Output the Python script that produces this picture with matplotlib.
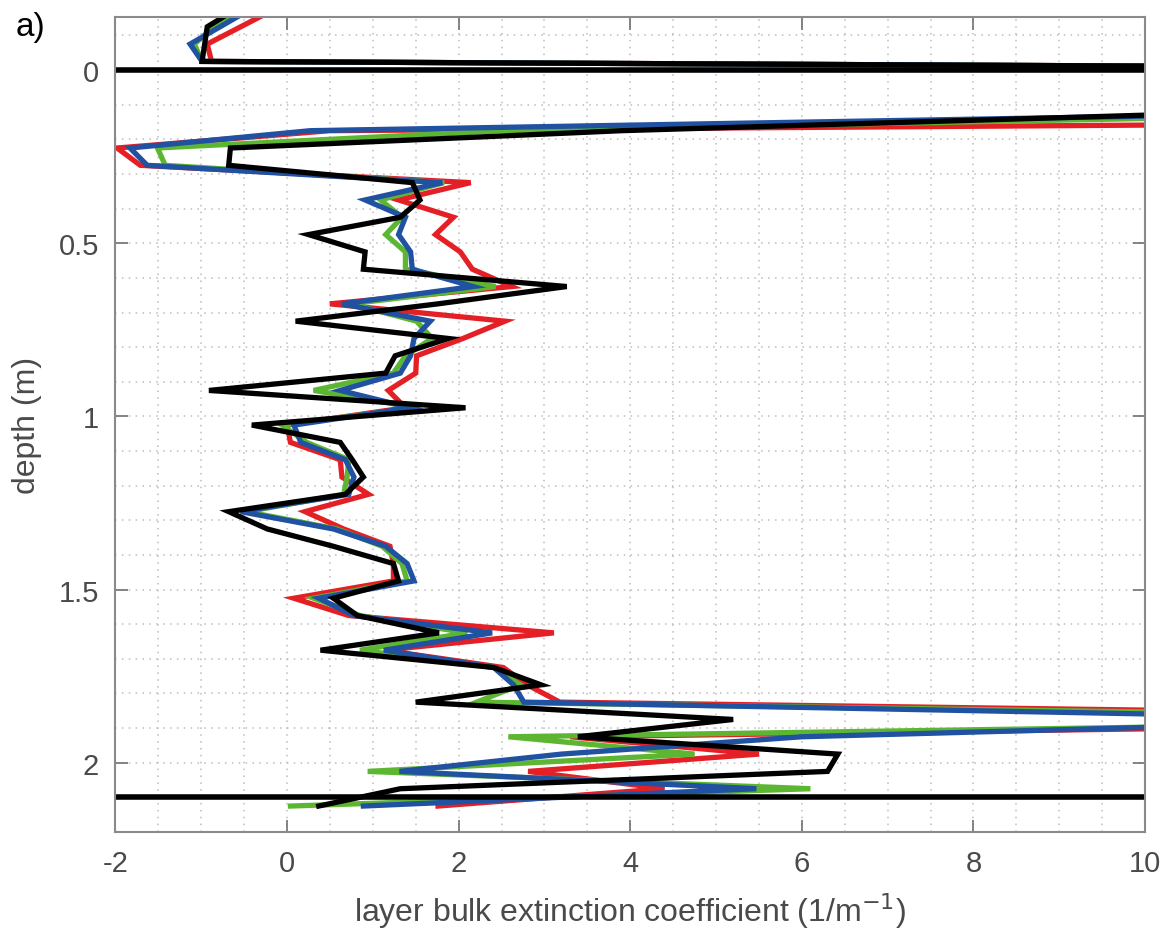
import matplotlib
matplotlib.use('Agg')
import matplotlib.pyplot as plt
import numpy as np
from matplotlib.ticker import MultipleLocator, FuncFormatter

plt.rcParams['font.family'] = ['Liberation Sans', 'DejaVu Sans']

# layer mid-depths (m)
depth = [-0.175, -0.125, -0.075, -0.025, 0.025, 0.075, 0.125, 0.175, 0.225, 0.275,
         0.325, 0.375, 0.425, 0.475, 0.525, 0.575, 0.625, 0.675, 0.725, 0.775,
         0.825, 0.875, 0.925, 0.975, 1.025, 1.075, 1.125, 1.175, 1.225, 1.275,
         1.325, 1.375, 1.425, 1.475, 1.525, 1.575, 1.625, 1.675, 1.725, 1.775,
         1.825, 1.875, 1.925, 1.975, 2.025, 2.075, 2.125]

red = [-0.15, -0.54, -0.93, -0.88, 40, 40, 30, 0.5, -1.98, -1.71,
       2.14, 1.30, 1.94, 1.73, 2.02, 2.16, 2.62, 0.50, 2.54, 2.05,
       1.51, 1.50, 1.18, 1.38, 0.0, 0.04, 0.62, 0.64, 0.95, 0.21,
       0.66, 1.20, 1.24, 1.24, 0.08, 0.72, 3.11, 1.13, 2.52, 2.80,
       3.18, 18, 3.3, 5.5, 2.81, 4.4, 1.76]

green = [-0.5, -0.85, -1.08, -0.99, 40, 40, 13.2, 2.5, -1.51, -1.42,
         1.83, 1.09, 1.34, 1.15, 1.38, 1.38, 2.43, 0.74, 1.51, 1.69,
         1.38, 1.24, 0.31, 1.51, -0.06, 0.23, 0.72, 0.70, 0.66, -0.47,
         0.58, 1.11, 1.34, 1.40, 0.31, 0.85, 2.10, 0.85, 2.41, 2.72,
         2.21, 16, 2.58, 4.75, 0.94, 6.1, 0.04]

blue = [-0.43, -0.78, -1.13, -0.99, 40, 40, 11.9, 0.27, -1.83, -1.63,
        1.81, 0.91, 1.38, 1.30, 1.44, 1.46, 2.17, 0.64, 1.67, 1.48,
        1.44, 1.32, 0.62, 1.44, 0.08, 0.16, 0.68, 0.78, 0.72, -0.54,
        0.54, 1.15, 1.40, 1.48, 0.37, 0.78, 2.39, 1.13, 2.41, 2.64,
        2.76, 13.4, 6.0, 3.2, 1.31, 5.47, 0.89]

black = [-0.6, -0.93, -0.96, -0.99, 40, 40, 10.7, 3.9, -0.66, -0.68,
         1.46, 1.55, 1.32, 0.25, 0.91, 0.89, 3.26, 1.76, 0.10, 1.88,
         1.26, 1.15, -0.91, 2.08, -0.41, 0.62, 0.76, 0.89, 0.68, -0.68,
         -0.23, 0.54, 1.24, 1.30, 0.54, 0.82, 1.77, 0.39, 2.41, 2.96,
         1.50, 5.20, 3.39, 6.42, 6.30, 1.32, 0.37]

# interfaces (m)
surface = 0.0
bottom = 2.1

fig = plt.figure(figsize=(11.66, 9.45), dpi=100)
ax = fig.add_axes([0.099, 0.1185, 0.883, 0.862])

lw = 3.8
ax.plot(red, depth, color='#e41f26', lw=lw, solid_joinstyle='miter')
ax.plot(green, depth, color='#5db631', lw=lw, solid_joinstyle='miter')
ax.plot(blue, depth, color='#2151a1', lw=lw, solid_joinstyle='miter')
ax.plot(black, depth, color='black', lw=lw, solid_joinstyle='miter')

ax.axhline(surface, color='black', lw=4.0)
ax.axhline(bottom, color='black', lw=4.0)

ax.set_xlim(-2, 10)
ax.set_ylim(2.2, -0.152)

ax.xaxis.set_major_locator(MultipleLocator(2))
ax.xaxis.set_minor_locator(MultipleLocator(0.5))
ax.yaxis.set_major_locator(MultipleLocator(0.5))
ax.yaxis.set_minor_locator(MultipleLocator(0.1))
ax.yaxis.set_major_formatter(FuncFormatter(lambda v, p: '%g' % v))
ax.xaxis.set_major_formatter(FuncFormatter(lambda v, p: '%g' % v))

ax.grid(which='both', color='#bcbcbc', lw=1.1, linestyle=(0, (1, 3.5)))
ax.set_axisbelow(True)

ax.tick_params(which='major', direction='in', length=9, width=1.2, colors='#707070',
               labelcolor='#4a4a4a', labelsize=21, top=True, right=True, pad=12)
ax.tick_params(which='minor', length=0)
for s in ax.spines.values():
    s.set_color('#8a8a8a')
    s.set_linewidth(1.5)

ax.set_xlabel('layer bulk extinction coefficient (1/m$^{-1}$)', fontsize=23,
              color='#4a4a4a', labelpad=10)
ax.set_ylabel('depth (m)', fontsize=23, color='#4a4a4a', labelpad=12)

fig.text(0.013, 0.962, 'a)', fontsize=24, color='black')

plt.savefig('out.png', dpi=100)
